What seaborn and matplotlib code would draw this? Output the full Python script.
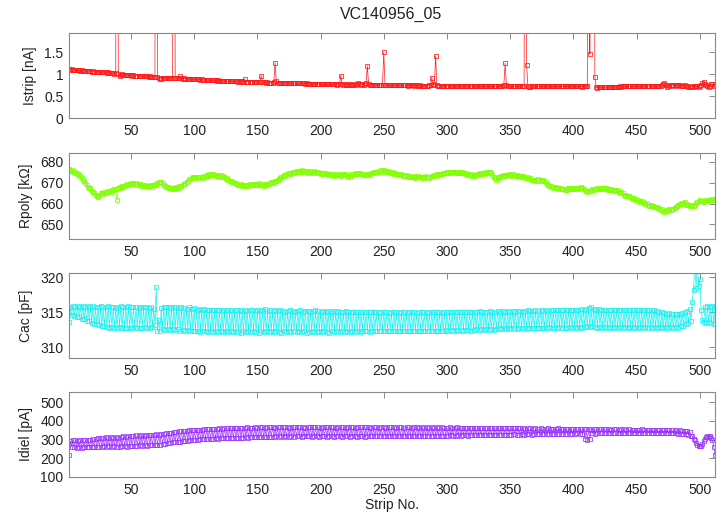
import numpy as np
import seaborn as sns
import matplotlib.pyplot as plt

title = "VC140956_05"

# strip current [nA], one value per strip (1..512)
istrip = [
    1.11, 1.10, 1.11, 1.10, 1.10, 1.09, 1.10, 1.09, 1.09, 1.08, 1.09, 1.08, 1.08, 1.08, 1.07, 1.08,
    1.07, 1.07, 1.06, 1.07, 1.06, 1.06, 1.05, 1.06, 1.05, 1.05, 1.04, 1.05, 1.04, 1.04, 1.03, 1.04,
    1.03, 1.03, 1.02, 1.02, 1.01, 1.02, 20.0, 1.01, 0.97, 0.99, 1.00, 0.99, 0.99, 0.98, 0.99, 0.98,
    0.98, 0.98, 0.97, 0.98, 0.97, 0.97, 0.96, 0.97, 0.96, 0.96, 0.96, 0.95, 0.96, 0.95, 0.95, 0.94,
    0.95, 0.94, 0.94, 0.93, 0.94, 20.0, 0.93, 0.92, 0.89, 0.90, 0.91, 0.92, 0.91, 0.92, 0.91, 0.92,
    0.91, 0.92, 0.91, 20.0, 0.92, 0.91, 0.92, 0.91, 0.95, 0.91, 0.90, 0.91, 0.90, 0.90, 0.89, 0.90,
    0.89, 0.89, 0.89, 0.88, 0.89, 0.88, 0.88, 0.88, 0.87, 0.88, 0.87, 0.87, 0.87, 0.87, 0.86, 0.87,
    0.86, 0.86, 0.86, 0.86, 0.86, 0.85, 0.86, 0.85, 0.85, 0.85, 0.85, 0.85, 0.85, 0.84, 0.85, 0.84,
    0.84, 0.84, 0.84, 0.84, 0.84, 0.84, 0.83, 0.84, 0.83, 0.84, 0.83, 0.89, 0.83, 0.83, 0.83, 0.83,
    0.83, 0.82, 0.83, 0.82, 0.82, 0.82, 0.82, 0.82, 0.97, 0.82, 0.82, 0.82, 0.81, 0.82, 0.81, 0.81,
    0.81, 0.81, 0.82, 1.26, 0.84, 0.81, 0.81, 0.81, 0.80, 0.81, 0.80, 0.80, 0.80, 0.80, 0.80, 0.80,
    0.80, 0.80, 0.79, 0.80, 0.79, 0.79, 0.79, 0.79, 0.79, 0.79, 0.79, 0.78, 0.79, 0.78, 0.78, 0.78,
    0.78, 0.78, 0.78, 0.78, 0.78, 0.78, 0.77, 0.78, 0.77, 0.77, 0.77, 0.77, 0.78, 0.77, 0.77, 0.77,
    0.77, 0.77, 0.77, 0.77, 0.76, 0.77, 0.77, 0.97, 0.77, 0.76, 0.77, 0.76, 0.76, 0.78, 0.76, 0.77,
    0.76, 0.76, 0.78, 0.76, 0.77, 0.79, 0.77, 0.76, 0.78, 0.76, 0.77, 0.80, 1.19, 0.77, 0.76, 0.76,
    0.76, 0.76, 0.76, 0.76, 0.76, 0.76, 0.75, 0.76, 0.76, 1.50, 0.76, 0.75, 0.76, 0.75, 0.75, 0.75,
    0.75, 0.76, 0.75, 0.75, 0.75, 0.76, 0.75, 0.75, 0.75, 0.75, 0.75, 0.75, 0.74, 0.75, 0.75, 0.75,
    0.75, 0.74, 0.75, 0.75, 0.74, 0.74, 0.75, 0.74, 0.74, 0.74, 0.74, 0.74, 0.74, 0.75, 0.76, 0.92,
    0.77, 0.75, 1.42, 0.76, 0.74, 0.74, 0.74, 0.74, 0.73, 0.74, 0.74, 0.74, 0.73, 0.74, 0.73, 0.73,
    0.73, 0.74, 0.73, 0.73, 0.73, 0.73, 0.73, 0.73, 0.73, 0.73, 0.73, 0.73, 0.73, 0.72, 0.73, 0.73,
    0.73, 0.73, 0.72, 0.73, 0.73, 0.72, 0.73, 0.72, 0.73, 0.73, 0.72, 0.73, 0.72, 0.73, 0.72, 0.72,
    0.73, 0.72, 0.73, 0.73, 0.72, 0.73, 0.73, 0.74, 0.76, 1.25, 0.75, 0.73, 0.72, 0.73, 0.72, 0.73,
    0.72, 0.73, 0.73, 0.72, 0.73, 0.73, 0.72, 0.73, 0.73, 15.0, 1.21, 0.72, 0.70, 0.71, 0.72, 0.72,
    0.72, 0.73, 0.72, 0.72, 0.72, 0.73, 0.72, 0.72, 0.72, 0.72, 0.72, 0.73, 0.72, 0.72, 0.72, 0.72,
    0.72, 0.72, 0.72, 0.72, 0.72, 0.73, 0.72, 0.72, 0.72, 0.72, 0.72, 0.72, 0.72, 0.72, 0.73, 0.72,
    0.72, 0.72, 0.72, 0.72, 0.72, 0.72, 0.71, 0.72, 0.72, 0.72, 0.73, 12.0, 1.46, 12.0, 12.0, 12.0,
    0.93, 0.70, 0.69, 0.70, 0.70, 0.70, 0.70, 0.71, 0.70, 0.70, 0.71, 0.70, 0.71, 0.71, 0.71, 0.71,
    0.71, 0.71, 0.71, 0.71, 0.72, 0.71, 0.72, 0.72, 0.72, 0.72, 0.72, 0.72, 0.72, 0.72, 0.72, 0.72,
    0.72, 0.73, 0.72, 0.73, 0.73, 0.73, 0.73, 0.73, 0.73, 0.73, 0.73, 0.73, 0.74, 0.73, 0.74, 0.74,
    0.74, 0.74, 0.74, 0.74, 0.74, 0.75, 0.77, 0.79, 0.75, 0.71, 0.74, 0.75, 0.74, 0.75, 0.75, 0.75,
    0.74, 0.75, 0.75, 0.76, 0.74, 0.73, 0.74, 0.75, 0.73, 0.72, 0.70, 0.71, 0.71, 0.72, 0.71, 0.73,
    0.72, 0.73, 0.71, 0.74, 0.76, 0.80, 0.83, 0.78, 0.76, 0.72, 0.70, 0.73, 0.78, 0.77, 0.74, 0.76,
]

# poly resistance [kOhm]
rpoly = [
    676.3, 675.6, 675.9, 675.1, 675.4, 674.6, 674.7, 674.0, 673.5, 673.1, 672.2, 671.2, 670.6, 669.8, 669.0, 668.1,
    667.2, 667.5, 666.1, 665.4, 664.8, 664.2, 663.6, 662.9, 664.0, 664.8, 665.2, 664.7, 665.4, 665.6, 665.0, 665.9,
    666.2, 665.7, 666.6, 666.4, 667.0, 666.8, 661.5, 667.4, 667.9, 667.6, 668.3, 668.0, 668.6, 668.9, 669.3, 668.8,
    669.5, 670.0, 669.4, 669.8, 669.2, 669.6, 668.9, 669.3, 669.3, 668.6, 669.0, 668.2, 668.7, 668.4, 667.9, 668.5,
    668.4, 668.8, 668.1, 668.9, 669.3, 669.0, 669.8, 670.2, 670.4, 670.1, 669.6, 669.0, 668.5, 668.0, 667.7, 667.3,
    667.5, 666.9, 667.2, 667.6, 667.0, 667.8, 667.4, 668.2, 668.0, 668.6, 668.8, 669.4, 669.9, 670.5, 670.9, 671.6,
    671.9, 672.3, 672.5, 672.1, 672.6, 672.3, 672.9, 672.5, 672.7, 672.2, 672.8, 673.3, 672.9, 673.6, 673.2, 673.9,
    673.5, 674.0, 674.1, 673.6, 673.2, 673.8, 673.4, 672.9, 673.5, 672.8, 673.1, 672.6, 671.9, 672.3, 671.4, 671.0,
    670.8, 670.1, 670.4, 669.7, 670.0, 669.4, 669.1, 668.7, 669.3, 668.6, 668.9, 668.2, 668.8, 669.0, 668.5, 669.2,
    668.7, 669.1, 669.5, 668.9, 669.3, 669.0, 669.6, 668.8, 669.4, 669.0, 668.6, 669.3, 669.2, 668.9, 669.5, 669.8,
    670.1, 670.4, 670.0, 670.8, 670.9, 671.3, 671.9, 672.4, 672.8, 673.3, 673.1, 673.7, 674.1, 673.8, 674.4, 674.7,
    674.3, 675.0, 674.8, 675.2, 675.5, 675.1, 675.7, 675.3, 675.9, 675.4, 675.0, 675.6, 675.2, 674.8, 675.4, 675.0,
    674.6, 675.2, 675.6, 674.9, 674.5, 675.1, 674.7, 674.2, 674.8, 674.3, 674.6, 674.4, 673.9, 674.2, 673.7, 674.0,
    673.5, 673.9, 673.4, 673.8, 674.1, 673.6, 673.6, 673.2, 673.9, 674.2, 673.7, 674.0, 673.4, 672.9, 673.0, 673.4,
    673.9, 674.3, 674.0, 674.5, 674.2, 674.8, 674.6, 674.1, 674.3, 673.8, 674.0, 673.5, 673.8, 674.2, 673.8, 674.4,
    674.6, 675.0, 674.7, 675.2, 675.0, 675.5, 675.3, 675.9, 675.8, 676.1, 675.6, 675.3, 675.7, 675.0, 675.2, 674.6,
    674.9, 674.3, 674.5, 674.3, 673.9, 674.2, 673.6, 673.9, 673.4, 673.8, 673.1, 673.5, 672.8, 673.2, 672.6, 672.9,
    672.6, 673.0, 672.4, 672.9, 673.2, 672.5, 672.8, 672.1, 672.7, 672.3, 673.0, 672.5, 672.8, 672.3, 672.9, 673.2,
    673.0, 673.6, 673.3, 673.9, 674.2, 673.8, 674.3, 674.0, 674.6, 674.4, 674.6, 674.9, 674.5, 675.1, 674.8, 675.2,
    674.9, 675.3, 674.7, 675.1, 674.8, 675.0, 674.6, 675.2, 674.4, 674.0, 674.5, 673.8, 674.2, 673.6, 673.9, 673.4,
    673.0, 673.5, 673.8, 674.2, 673.6, 674.4, 674.0, 674.6, 674.3, 674.8, 675.0, 674.6, 675.2, 675.0, 674.4, 673.6,
    672.8, 672.2, 671.5, 672.0, 672.6, 672.9, 673.3, 673.0, 673.6, 673.4, 673.8, 673.5, 674.0, 673.8, 673.4, 673.9,
    673.5, 673.1, 673.6, 673.0, 672.8, 673.2, 673.0, 673.0, 672.6, 672.3, 672.7, 672.0, 671.8, 672.2, 671.5, 671.1,
    671.4, 671.0, 671.0, 671.6, 671.2, 670.7, 671.3, 671.5, 670.8, 670.1, 669.5, 669.0, 668.6, 668.2, 667.9, 667.7,
    667.4, 667.9, 667.2, 667.6, 667.0, 667.3, 666.8, 667.1, 666.6, 666.9, 666.5, 667.2, 666.8, 667.4, 667.0, 667.6,
    667.1, 667.5, 667.3, 666.8, 667.3, 668.0, 667.5, 667.1, 666.4, 666.0, 665.6, 666.2, 666.0, 666.6, 667.0, 666.5,
    667.1, 666.8, 667.3, 667.0, 667.5, 666.9, 667.2, 667.4, 667.0, 667.3, 666.7, 667.1, 666.5, 666.9, 666.2, 666.6,
    666.4, 666.0, 666.5, 665.7, 665.2, 665.6, 664.8, 664.3, 663.8, 664.1, 663.4, 663.8, 663.0, 662.6, 662.2, 662.7,
    661.9, 661.5, 661.8, 661.0, 660.7, 661.1, 660.7, 660.2, 659.8, 660.1, 659.4, 659.0, 659.3, 658.6, 658.9, 658.2,
    658.5, 658.4, 657.7, 657.3, 656.8, 657.2, 656.4, 656.0, 656.5, 656.9, 656.6, 657.2, 657.0, 657.5, 657.6, 658.0,
    658.3, 658.8, 659.1, 659.6, 659.9, 660.2, 660.2, 660.6, 660.0, 659.5, 659.2, 658.8, 659.4, 658.9, 658.7, 659.5,
    660.1, 660.6, 661.2, 661.5, 661.0, 661.4, 660.8, 661.2, 661.6, 661.1, 661.5, 661.9, 661.4, 662.0, 661.7, 662.3,
]

# coupling capacitance [pF]
cac = [
    313.6, 315.8, 314.6, 315.9, 314.5, 315.7, 314.4, 315.9, 314.3, 315.8, 314.1, 315.9, 314.0, 315.7, 313.8, 315.9,
    313.7, 315.8, 313.5, 315.9, 313.4, 315.7, 313.3, 315.8, 313.2, 315.9, 313.0, 315.7, 313.0, 315.8, 312.9, 315.9,
    312.8, 315.7, 312.9, 315.8, 312.8, 315.6, 312.7, 315.8, 312.9, 315.9, 312.8, 315.7, 312.7, 315.8, 312.8, 315.9,
    312.7, 315.7, 312.8, 315.8, 312.9, 315.7, 312.8, 315.6, 312.7, 315.8, 312.8, 315.7, 312.9, 315.8, 312.7, 315.6,
    312.8, 315.7, 312.9, 315.5, 313.2, 318.6, 312.3, 313.9, 312.4, 315.6, 312.6, 315.8, 312.5, 315.7, 312.6, 315.8,
    312.5, 315.6, 312.6, 315.8, 312.5, 315.7, 312.6, 315.6, 312.4, 315.7, 312.5, 315.6, 312.4, 315.5, 312.5, 315.7,
    312.4, 315.5, 312.3, 315.6, 312.4, 315.4, 312.3, 315.5, 312.2, 315.4, 312.3, 315.5, 312.3, 315.3, 312.2, 315.4,
    312.3, 315.4, 312.2, 315.3, 312.3, 315.4, 312.2, 315.3, 312.3, 315.2, 312.2, 315.4, 312.3, 315.3, 312.2, 315.3,
    312.3, 315.2, 312.2, 315.3, 312.3, 315.4, 312.2, 315.3, 312.1, 315.2, 312.3, 315.3, 312.2, 315.2, 312.3, 315.4,
    312.2, 315.3, 312.3, 315.2, 312.2, 315.3, 312.1, 315.2, 312.3, 315.4, 312.2, 315.5, 312.3, 315.2, 312.2, 315.3,
    312.3, 315.2, 312.2, 315.3, 312.3, 315.2, 312.2, 315.3, 312.1, 315.2, 312.3, 315.1, 312.2, 315.2, 312.3, 315.3,
    312.2, 315.2, 312.3, 315.1, 312.2, 315.2, 312.3, 315.3, 312.2, 315.1, 312.3, 315.2, 312.1, 315.2, 312.2, 315.1,
    312.3, 315.2, 312.2, 315.3, 312.2, 315.2, 312.3, 315.1, 312.2, 315.2, 312.3, 315.1, 312.2, 315.2, 312.1, 315.1,
    312.3, 315.2, 312.2, 315.1, 312.3, 315.2, 312.2, 315.0, 312.3, 315.1, 312.2, 315.2, 312.3, 315.1, 312.2, 315.0,
    312.3, 315.1, 312.2, 315.0, 312.3, 315.1, 312.2, 315.0, 312.3, 315.1, 312.4, 315.0, 312.3, 315.1, 312.2, 315.0,
    312.3, 315.1, 312.4, 315.0, 312.3, 314.9, 312.4, 315.0, 312.3, 315.1, 312.4, 315.0, 312.3, 314.9, 312.4, 315.0,
    312.3, 315.1, 312.4, 315.0, 312.3, 314.9, 312.4, 315.0, 312.3, 315.0, 312.4, 314.9, 312.3, 315.0, 312.4, 315.1,
    312.3, 315.0, 312.4, 314.9, 312.3, 315.0, 312.4, 315.1, 312.3, 315.0, 312.4, 314.9, 312.3, 315.0, 312.4, 315.1,
    312.4, 315.0, 312.3, 315.1, 312.4, 315.0, 312.3, 314.9, 312.4, 315.0, 312.5, 315.1, 312.4, 315.0, 312.5, 315.1,
    312.4, 315.0, 312.5, 315.1, 312.4, 315.0, 312.5, 315.1, 312.4, 315.0, 312.5, 315.1, 312.5, 315.0, 312.4, 315.1,
    312.5, 315.0, 312.6, 315.1, 312.5, 315.2, 312.6, 315.1, 312.5, 315.0, 312.6, 315.1, 312.5, 315.2, 312.6, 315.1,
    312.5, 315.1, 312.6, 315.2, 312.7, 315.1, 312.6, 315.2, 312.7, 315.1, 312.6, 315.2, 312.7, 315.1, 312.6, 315.2,
    312.7, 315.1, 312.6, 315.2, 312.7, 315.2, 312.8, 315.1, 312.7, 315.2, 312.6, 315.3, 312.7, 315.2, 312.8, 315.2,
    312.7, 315.3, 312.8, 315.2, 312.7, 315.3, 312.8, 315.2, 312.7, 315.3, 312.8, 315.2, 312.9, 315.3, 312.8, 315.3,
    312.7, 315.3, 312.8, 315.4, 312.9, 315.3, 312.8, 315.4, 312.7, 315.3, 312.8, 315.4, 312.9, 315.3, 312.8, 315.4,
    312.9, 315.3, 312.8, 315.4, 312.9, 315.5, 312.8, 315.4, 312.9, 315.5, 313.0, 315.6, 312.9, 315.7, 313.0, 315.5,
    312.9, 315.4, 312.8, 315.5, 312.9, 315.4, 312.8, 315.3, 312.9, 315.4, 312.8, 315.3, 312.9, 315.4, 312.8, 315.3,
    312.9, 315.4, 312.8, 315.3, 312.9, 315.4, 312.8, 315.3, 312.9, 315.4, 312.8, 315.3, 312.9, 315.4, 312.8, 315.3,
    312.9, 315.3, 312.8, 315.4, 312.9, 315.3, 312.8, 315.3, 312.9, 315.4, 312.8, 315.3, 312.9, 315.2, 312.8, 315.3,
    312.9, 315.2, 312.8, 315.1, 312.9, 315.0, 312.8, 314.9, 312.9, 314.8, 312.8, 314.9, 312.9, 314.7, 312.8, 314.8,
    312.9, 314.7, 312.8, 314.8, 313.0, 314.9, 313.1, 315.0, 313.3, 315.2, 313.5, 315.5, 313.8, 316.5, 318.2, 322.0,
    318.4, 322.0, 318.7, 319.8, 315.3, 313.9, 313.6, 315.8, 313.5, 315.9, 313.6, 315.8, 313.5, 315.9, 313.4, 315.8,
]

# dielectric current [pA]
idiel = [
    215, 292, 262, 296, 258, 298, 256, 295, 259, 297, 257, 299, 260, 296, 258, 300,
    261, 298, 259, 302, 262, 305, 260, 308, 263, 306, 261, 310, 264, 312, 262, 309,
    265, 313, 263, 311, 266, 314, 262, 310, 258, 316, 264, 318, 266, 315, 263, 319,
    267, 322, 265, 320, 268, 323, 266, 321, 269, 324, 267, 322, 270, 326, 268, 324,
    271, 327, 269, 325, 272, 329, 270, 326, 273, 331, 276, 329, 278, 333, 280, 336,
    283, 338, 285, 340, 287, 342, 286, 344, 289, 346, 291, 345, 293, 348, 295, 350,
    296, 351, 298, 349, 299, 352, 300, 354, 301, 353, 302, 355, 303, 356, 302, 357,
    304, 358, 305, 356, 306, 359, 305, 360, 307, 358, 306, 361, 308, 362, 307, 360,
    309, 362, 308, 363, 310, 361, 309, 364, 311, 362, 310, 363, 312, 365, 311, 364,
    313, 363, 312, 366, 314, 364, 313, 365, 315, 366, 314, 364, 316, 367, 315, 365,
    316, 366, 315, 364, 317, 366, 316, 365, 317, 367, 316, 365, 317, 366, 316, 364,
    317, 366, 316, 365, 318, 367, 317, 365, 316, 366, 317, 364, 318, 366, 317, 365,
    316, 367, 318, 365, 317, 366, 316, 364, 318, 366, 317, 365, 316, 367, 318, 365,
    317, 366, 316, 364, 318, 366, 317, 365, 316, 366, 318, 364, 317, 366, 316, 365,
    318, 366, 317, 364, 316, 366, 318, 365, 317, 367, 316, 365, 318, 366, 317, 364,
    318, 365, 317, 366, 319, 364, 318, 365, 317, 366, 319, 364, 318, 365, 317, 366,
    319, 365, 318, 364, 317, 366, 319, 365, 318, 364, 320, 366, 319, 365, 318, 364,
    320, 365, 319, 366, 318, 364, 320, 365, 319, 363, 321, 365, 320, 364, 319, 366,
    321, 364, 320, 365, 322, 363, 321, 365, 320, 364, 322, 363, 321, 365, 323, 364,
    322, 363, 321, 365, 323, 364, 322, 363, 324, 364, 323, 362, 322, 364, 324, 363,
    323, 362, 325, 364, 324, 363, 323, 361, 325, 363, 324, 362, 326, 363, 325, 361,
    324, 362, 326, 361, 325, 363, 327, 362, 326, 360, 325, 362, 327, 361, 326, 360,
    328, 361, 327, 360, 326, 362, 328, 361, 327, 359, 329, 361, 328, 360, 327, 359,
    329, 360, 328, 358, 330, 360, 329, 359, 328, 358, 330, 360, 329, 358, 331, 359,
    330, 358, 329, 360, 331, 358, 330, 359, 332, 357, 331, 359, 330, 358, 332, 357,
    331, 358, 333, 357, 332, 356, 331, 358, 305, 355, 298, 356, 302, 354, 333, 357,
    332, 356, 334, 355, 333, 357, 335, 356, 334, 355, 333, 357, 335, 354, 334, 356,
    336, 355, 335, 354, 334, 356, 336, 355, 335, 353, 337, 355, 336, 354, 335, 353,
    337, 354, 336, 353, 335, 355, 337, 352, 336, 354, 335, 353, 337, 351, 336, 353,
    335, 352, 337, 350, 336, 352, 335, 351, 337, 349, 336, 351, 335, 350, 334, 349,
    333, 348, 332, 349, 331, 347, 330, 348, 329, 345, 327, 342, 322, 318, 304, 296,
    280, 272, 266, 264, 268, 278, 290, 304, 313, 320, 314, 322, 308, 296, 262, 215,
]

panels = [
    (istrip, "Istrip [nA]", "#ff1a1a", (0, 1.94), [0, 0.5, 1, 1.5], ["0", "0.5", "1", "1.5"]),
    (rpoly, "Rpoly [k\u03a9]", "#80ff00", (643, 684.2), [650, 660, 670, 680], None),
    (cac, "Cac [pF]", "#1aeeee", (308.5, 320.6), [310, 315, 320], None),
    (idiel, "Idiel [pA]", "#9933ff", (100, 555), [100, 200, 300, 400, 500], None),
]
xticks = [50, 100, 150, 200, 250, 300, 350, 400, 450, 500]

sns.set_theme(style="white")
plt.rcParams['font.family'] = ['Liberation Sans', 'DejaVu Sans']

fig = plt.figure(figsize=(7.17, 5.12), dpi=100)
bottoms = [0.7695, 0.5332, 0.3008, 0.0684]
heights = [0.166, 0.168, 0.166, 0.166]

for i, (vals, label, color, ylim, yt, ytl) in enumerate(panels):
    ax = fig.add_axes([0.0962, bottoms[i], 0.901, heights[i]])
    strips = np.arange(1, len(vals) + 1)
    sns.lineplot(x=strips, y=vals, ax=ax, color=color, linewidth=0.5,
                 marker='s', markersize=2.3, markerfacecolor='none',
                 markeredgecolor=color, markeredgewidth=0.55)
    ax.set_xlim(1, 512)
    ax.set_ylim(*ylim)
    ax.set_xticks(xticks)
    if ytl is None:
        ax.set_yticks(yt)
    else:
        ax.set_yticks(yt, ytl)
    ax.set_ylabel(label, fontsize=10, color='#222222', labelpad=5)
    ax.set_xlabel("")
    ax.tick_params(direction='in', top=True, right=True, length=4, width=0.6,
                   color='#777777', labelsize=10, labelcolor='#222222', pad=4)
    for sp in ax.spines.values():
        sp.set_color('#888888')
        sp.set_linewidth(0.8)
    if i == 3:
        ax.set_xlabel("Strip No.", fontsize=10, color='#222222', labelpad=1)

fig.text(0.545, 0.971, title, ha='center', va='center', fontsize=11.5, color='#222222')

plt.savefig("out.png", dpi=100)
